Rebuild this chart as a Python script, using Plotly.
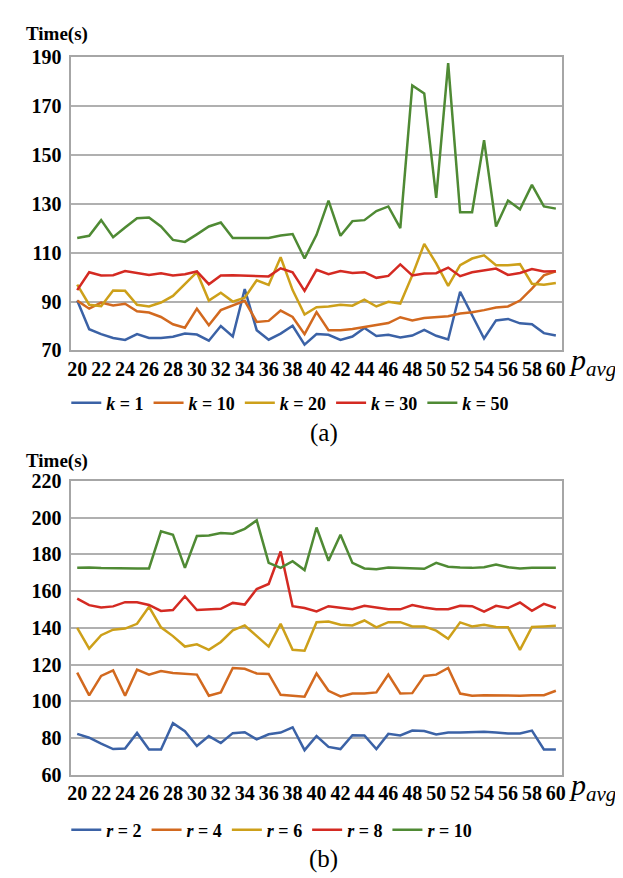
import plotly.graph_objects as go

p_avg = list(range(20, 61))

# (a) Time(s) for different k
k1 = [90.4, 78.7, 76.7, 75.1, 74.3, 76.7, 75.1, 75.1, 75.6, 76.9, 76.5, 74.0, 80.0, 75.7, 95.1, 78.3, 74.4, 76.9, 80.1, 72.4,
      76.7, 76.4, 74.3, 75.7, 79.2, 75.9, 76.4, 75.3, 76.1, 78.4, 76.0, 74.5, 94.0, 84.4, 74.9, 82.3, 82.9, 81.1, 80.7, 77.1, 76.1]
k10 = [90.4, 87.1, 89.6, 88.4, 89.1, 86.0, 85.5, 83.7, 80.7, 79.3, 87.1, 80.3, 86.5, 88.4, 90.3, 81.7, 82.1, 86.3, 83.7, 76.7,
       85.7, 78.3, 78.3, 78.8, 79.7, 80.3, 81.2, 83.6, 82.3, 83.3, 83.6, 84.0, 85.1, 85.6, 86.5, 87.6, 88.0, 90.4, 95.3, 100.7, 102.4]
k20 = [96.9, 88.7, 88.1, 94.5, 94.4, 88.7, 88.0, 89.6, 92.3, 97.2, 102.0, 90.4, 93.6, 90.0, 91.6, 98.7, 96.8, 108.1, 94.7, 84.7,
       87.7, 88.0, 88.7, 88.3, 90.8, 88.0, 89.9, 89.2, 100.7, 113.6, 105.6, 96.4, 104.9, 107.6, 108.9, 104.9, 104.9, 105.3, 97.3, 96.9, 97.6]
k30 = [94.7, 102.0, 100.7, 100.8, 102.5, 101.6, 100.9, 101.6, 100.7, 101.2, 102.3, 97.1, 100.7, 100.8, 100.7, 100.7, 100.3, 103.6, 102.0, 94.4,
       103.0, 101.2, 102.5, 101.7, 102.0, 99.7, 100.5, 105.2, 100.7, 101.5, 101.6, 103.9, 100.4, 102.0, 102.9, 103.5, 100.9, 101.7, 103.3, 102.3, 102.4]
k50 = [116.0, 116.9, 123.3, 116.3, 120.3, 124.1, 124.4, 120.7, 115.2, 114.4, 117.5, 120.7, 122.3, 116.0, 116.0, 116.0, 116.0, 117.0, 117.6, 107.6,
       117.3, 131.3, 116.9, 122.9, 123.3, 127.0, 128.9, 120.0, 178.4, 175.1, 132.4, 187.5, 126.5, 126.5, 156.0, 120.7, 131.3, 127.7, 137.7, 128.9, 128.0]

# (b) Time(s) for different r
r2 = [82.2, 80.1, 76.9, 73.9, 74.2, 82.7, 73.7, 73.7, 88.0, 83.6, 75.6, 81.0, 77.2, 82.6, 83.1, 79.2, 82.0, 82.9, 85.8, 73.3,
      81.0, 75.1, 73.9, 81.5, 81.3, 73.9, 82.2, 81.3, 84.0, 83.8, 81.9, 82.9, 82.9, 83.1, 83.3, 82.9, 82.4, 82.4, 84.0, 73.7, 73.7]
r4 = [115.6, 103.2, 113.8, 116.8, 103.0, 117.2, 114.5, 116.5, 115.4, 114.9, 114.5, 103.0, 104.8, 118.1, 117.7, 115.1, 114.9, 103.5, 103.2, 102.5,
      115.1, 105.7, 102.6, 104.2, 104.2, 104.8, 114.5, 104.2, 104.4, 113.8, 114.5, 118.1, 104.2, 103.0, 103.2, 103.0, 103.0, 103.0, 103.2, 103.3, 105.7]
r6 = [140.0, 128.7, 136.0, 139.0, 139.6, 142.2, 151.5, 140.3, 135.5, 129.8, 131.0, 128.0, 132.3, 138.7, 141.3, 135.5, 129.8, 142.2, 128.0, 127.5,
      143.1, 143.5, 141.7, 141.3, 144.0, 140.3, 143.1, 143.1, 140.8, 140.8, 138.5, 134.1, 143.0, 140.8, 141.7, 140.5, 140.3, 128.0, 140.5, 140.8, 141.2]
r8 = [155.9, 152.4, 151.1, 151.7, 154.0, 154.0, 152.5, 149.2, 149.7, 157.2, 149.7, 150.2, 150.4, 153.6, 152.7, 161.2, 163.9, 181.6, 151.8, 150.8,
      149.0, 151.8, 151.1, 150.1, 152.0, 151.3, 150.2, 150.1, 152.4, 151.1, 150.2, 150.2, 152.0, 151.8, 148.8, 152.0, 150.8, 153.8, 149.3, 153.1, 150.8]
r10 = [172.7, 172.9, 172.6, 172.4, 172.4, 172.4, 172.4, 192.6, 190.8, 172.7, 190.1, 190.4, 191.7, 191.3, 194.0, 198.6, 175.4, 172.7, 176.3, 171.5,
       194.7, 176.6, 190.8, 175.4, 172.4, 172.0, 172.9, 172.7, 172.7, 172.2, 175.4, 173.3, 172.9, 172.7, 173.1, 174.5, 173.1, 172.4, 172.7, 172.9, 172.7]

x_ticks = list(range(20, 61, 2))
y_ticks_a = [70, 90, 110, 130, 150, 170, 190]
y_ticks_b = [60, 80, 100, 120, 140, 160, 180, 200, 220]

colors = ["#3B62A6", "#D2691F", "#CDA01A", "#D42A22", "#4F8A34"]
top_series = [("1", k1), ("10", k10), ("20", k20), ("30", k30), ("50", k50)]
bot_series = [("2", r2), ("4", r4), ("6", r6), ("8", r8), ("10", r10)]

FONT = "Liberation Serif"
fig = go.Figure()
for (lab, ys), c in zip(top_series, colors):
    fig.add_trace(go.Scatter(x=p_avg, y=ys, mode="lines", line=dict(color=c, width=2.5),
                             name=f"<b><i>k</i> = {lab}</b>", xaxis="x", yaxis="y", legend="legend"))
for (lab, ys), c in zip(bot_series, colors):
    fig.add_trace(go.Scatter(x=p_avg, y=ys, mode="lines", line=dict(color=c, width=2.5),
                             name=f"<b><i>r</i> = {lab}</b>", xaxis="x2", yaxis="y2", legend="legend2"))

W, H = 623, 878
xd = [60 / W, 557 / W]
base = dict(showline=True, mirror=True, linecolor="#a6a6a6", linewidth=1.5, zeroline=False,
            ticks="", tickfont=dict(family=FONT, size=20, color="black"))
grid = dict(showgrid=True, gridcolor="#b0b0b0", gridwidth=1.5)
fig.update_layout(
    width=W, height=H, plot_bgcolor="white", paper_bgcolor="white",
    font=dict(family=FONT, color="black"),
    margin=dict(l=0, r=0, t=0, b=0),
    xaxis=dict(domain=xd, range=[19.5, 60.5], tickvals=x_ticks, ticktext=[f"<b>{v}</b>" for v in x_ticks],
               showgrid=False, anchor="y", **base),
    yaxis=dict(domain=[1 - 340 / H, 1 - 39 / H], range=[70, 190], tickvals=y_ticks_a,
               ticktext=[f"<b>{v}</b>" for v in y_ticks_a], anchor="x", ticklabelstandoff=4, **base, **grid),
    xaxis2=dict(domain=xd, range=[19.5, 60.5], tickvals=x_ticks, ticktext=[f"<b>{v}</b>" for v in x_ticks],
                showgrid=False, anchor="y2", **base),
    yaxis2=dict(domain=[1 - 775 / H, 1 - 474 / H], range=[60, 220], tickvals=y_ticks_b,
                ticktext=[f"<b>{v}</b>" for v in y_ticks_b], anchor="x2", ticklabelstandoff=4, **base, **grid),
    legend=dict(orientation="h", x=55 / W, y=1 - 394 / H, xanchor="left", yanchor="middle",
                font=dict(family=FONT, size=18, color="black"), bgcolor="rgba(0,0,0,0)", itemwidth=30),
    legend2=dict(orientation="h", x=55 / W, y=1 - 832 / H, xanchor="left", yanchor="middle",
                 font=dict(family=FONT, size=18, color="black"), bgcolor="rgba(0,0,0,0)", itemwidth=30),
    showlegend=True,
)

ann = []
for ytop in [15, 453]:
    ann.append(dict(text="<b>Time(s)</b>", x=12 / W, y=1 - ytop / H, xref="paper", yref="paper",
                    xanchor="left", yanchor="middle", showarrow=False,
                    font=dict(family=FONT, size=19, color="black")))
for yc in [352, 788]:
    ann.append(dict(text="<i>p</i><sub><i>avg</i></sub>", x=614 / W, y=1 - yc / H, xref="paper", yref="paper",
                    xanchor="right", yanchor="middle", showarrow=False,
                    font=dict(family=FONT, size=30, color="black")))
for txt, yc in [("(a)", 425), ("(b)", 862)]:
    ann.append(dict(text=txt, x=316 / W, y=1 - yc / H, xref="paper", yref="paper",
                    xanchor="center", yanchor="middle", showarrow=False,
                    font=dict(family=FONT, size=25, color="black")))
fig.update_layout(annotations=ann)

fig.write_html("out.html")
